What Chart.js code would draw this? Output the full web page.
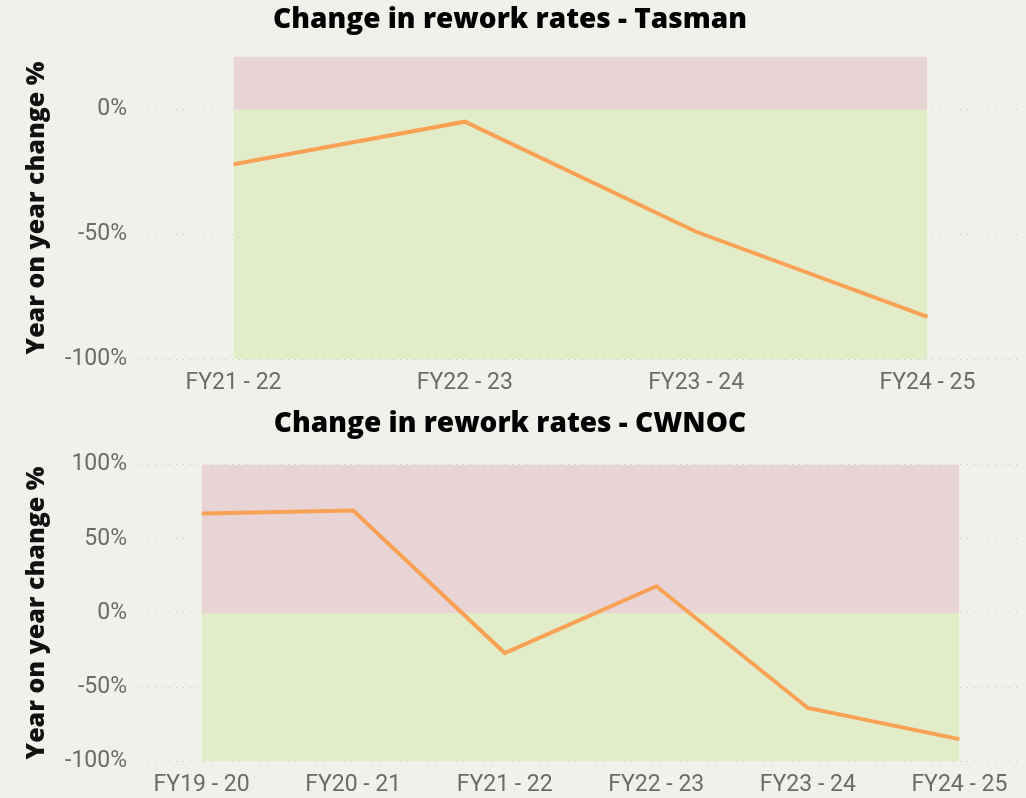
<!DOCTYPE html>
<html>
<head>
<meta charset="utf-8">
<script src="https://cdn.jsdelivr.net/npm/chart.js@4"></script>
<style>
  html, body { margin: 0; padding: 0; background: #f1f1ec; }
  .box { position: relative; width: 1026px; }
</style>
</head>
<body>
<div class="box" style="height:400px"><canvas id="tasman"></canvas></div>
<div class="box" style="height:398px"><canvas id="cwnoc"></canvas></div>
<script>
const tasmanLabels = ['FY21 - 22', 'FY22 - 23', 'FY23 - 24', 'FY24 - 25'];
const tasmanValues = [-22, -5, -49, -83];
const tasmanMax = 21;

const cwnocLabels = ['FY19 - 20', 'FY20 - 21', 'FY21 - 22', 'FY22 - 23', 'FY23 - 24', 'FY24 - 25'];
const cwnocValues = [67, 69, -27, 18, -64, -85];
const cwnocMax = 100;

const yMin = -100;

const LINE = '#f9a155';
const BAD = '#e8d4d4';
const GOOD = '#e3ecc8';
const TICK = '#6b6b6b';

function pts(vals) {
    return vals.map((v, i) => ({x: i, y: v}));
}

function band(vals, level, color) {
    return {
	data: pts(vals.map(() => level)),
	fill: 'origin',
	backgroundColor: color,
	borderWidth: 0,
	pointRadius: 0,
    };
}

function RateChart(id, title, labels, values, yMax, titlePad, bottomPad) {
    let ctx = document.getElementById(id);
    return new Chart(ctx, {
	type: 'line',
	data: {
	    datasets: [{
		data: pts(values),
		borderColor: LINE,
		borderWidth: 4,
		pointRadius: 0,
		tension: 0,
		fill: false,
	    },
	    band(values, yMax, BAD),
	    band(values, yMin, GOOD)],
	},
	options: {
	    maintainAspectRatio: false,
	    animation: false,
	    layout: { padding: { left: 0, right: 6, top: 0, bottom: bottomPad } },
	    plugins: {
		legend: { display: false },
		tooltip: { enabled: false },
		title: {
		    display: true,
		    text: title,
		    color: '#000',
		    font: { family: 'Open Sans', size: 28, weight: '800' },
		    padding: titlePad,
		},
	    },
	    scales: {
		x: {
		    type: 'linear',
		    min: -0.4,
		    max: labels.length - 1 + 0.4,
		    afterBuildTicks: (s) => { s.ticks = labels.map((_, i) => ({value: i})); },
		    grid: { display: false, drawTicks: false },
		    border: { display: false },
		    ticks: {
			color: TICK,
			padding: 10,
			maxRotation: 0,
			font: { family: 'Roboto', size: 23 },
			callback: (v) => labels[v],
		    },
		},
		y: {
		    min: yMin,
		    max: yMax,
		    z: 1,
		    afterFit: (s) => { s.width = 141; },
		    grid: {
			color: '#c4c4c0',
			drawTicks: false,
		    },
		    border: { display: false, dash: [1, 6] },
		    ticks: {
			stepSize: 50,
			includeBounds: false,
			color: TICK,
			padding: 14,
			font: { family: 'Roboto', size: 23 },
			callback: (v) => v + '%',
		    },
		    title: {
			display: true,
			text: 'Year on year change %',
			color: '#111',
			font: { family: 'Open Sans', size: 25, weight: '800' },
			padding: { top: 22, bottom: 0 },
		    },
		},
	    },
	},
    });
}

RateChart('tasman', 'Change in rework rates - Tasman', tasmanLabels, tasmanValues, tasmanMax, { top: 3, bottom: 20 }, -7);
RateChart('cwnoc', 'Change in rework rates - CWNOC', cwnocLabels, cwnocValues, cwnocMax, { top: 7, bottom: 24 }, -11);
</script>
</body>
</html>
